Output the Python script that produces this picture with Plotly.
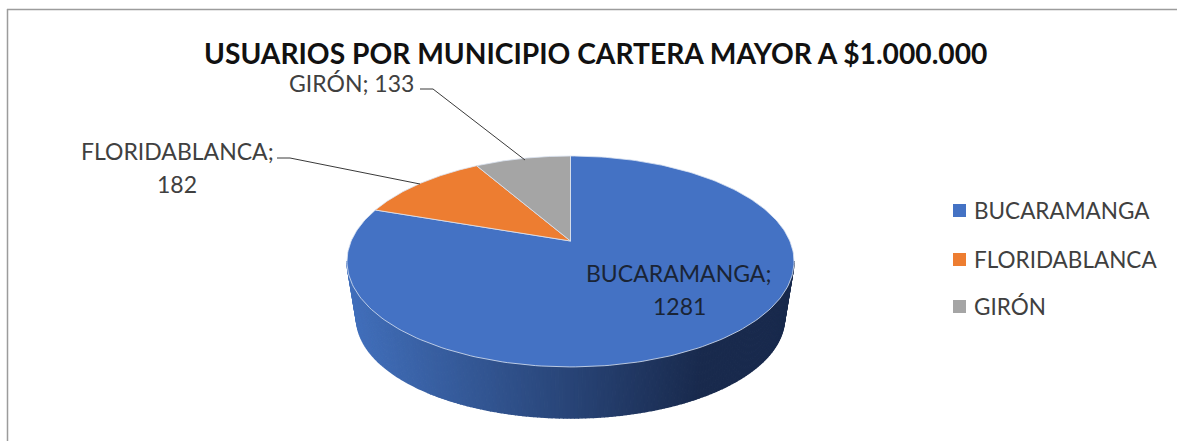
import numpy as np
import plotly.graph_objects as go

categories = ["BUCARAMANGA", "FLORIDABLANCA", "GIRÓN"]
values = [1281, 182, 133]
colors = ["#4472C4", "#ED7D31", "#A5A5A5"]
title_text = "USUARIOS POR MUNICIPIO CARTERA MAYOR A $1.000.000"

W, H = 1177, 441
CX, APEX_Y = 570.5, 241.0
A, B, K = 219.3, 101.5, 0.194
ELL_Y, ELL_A, ELL_B = 261.0, 223.5, 105.5
BOT_Y, BOT_A, BOT_B = 318.0, 214.0, 100.0
FONT = "Lato"
LEGEND_X, LEGEND_Y = 959.5, [210.5, 259.5, 306.5]


def disc(theta):
    """Project a clockwise-from-top disc angle through the chart's perspective."""
    u, v = np.sin(theta), np.cos(theta)
    d = 1 + K * v
    return CX + A * u / d, APEX_Y - B * v / d


fig = go.Figure()

# Side wall of the pie, shaded left to right
N = 180
phi = np.linspace(np.pi, 0, N + 1)
ramp_l = np.array([66, 112, 188])
ramp_m = np.array([38, 64, 112])
ramp_r = np.array([25, 42, 77])
for i in range(N):
    p = np.linspace(phi[i], phi[i + 1], 3)
    xt = CX + ELL_A * np.cos(p)
    yt = ELL_Y + ELL_B * np.sin(p)
    xb = CX + BOT_A * np.cos(p)
    yb = BOT_Y + BOT_B * np.sin(p)
    f = (xt.mean() - (CX - ELL_A)) / (2 * ELL_A)
    c = ramp_l + (ramp_m - ramp_l) * f / 0.55 if f < 0.55 else ramp_m + (ramp_r - ramp_m) * min(1, (f - 0.55) / 0.25)
    col = "rgb(%d,%d,%d)" % tuple(c)
    fig.add_trace(go.Scatter(
        x=np.r_[xt, xb[::-1]], y=np.r_[yt, yb[::-1]], mode="lines", fill="toself",
        fillcolor=col, line=dict(color=col, width=1.5), hoverinfo="skip", showlegend=False))

# Top face wedges computed from the values
total = sum(values)
start = 0.0
for name, val, col in zip(categories, values, colors):
    end = start + val / total * 2 * np.pi
    t = np.linspace(start, end, 240)
    px, py = disc(t)
    fig.add_trace(go.Scatter(
        x=np.r_[CX, px, CX], y=np.r_[APEX_Y, py, APEX_Y], mode="lines", fill="toself",
        fillcolor=col, line=dict(color="#DCE4F2", width=0.8),
        name=name, text=f"{name}; {val}", hoverinfo="text", showlegend=False))
    start = end

# Leader lines
for lx, ly in (([420, 433, 525], [89, 89, 160]), ([277, 290, 420], [158, 158, 184])):
    fig.add_trace(go.Scatter(x=lx, y=ly, mode="lines", line=dict(color="#3A3A3A", width=1),
                             hoverinfo="skip", showlegend=False))


def label(text, x, y, size=23, color="#404040", bold=False, anchor="center"):
    fig.add_annotation(x=x, y=y, text=f"<b>{text}</b>" if bold else text, showarrow=False,
                       xref="x", yref="y", align="center", xanchor=anchor,
                       font=dict(family=FONT, size=size, color=color))


# Legend keys and entries
for name, col, ly in zip(categories, colors, LEGEND_Y):
    fig.add_trace(go.Scatter(
        x=[LEGEND_X], y=[ly], mode="markers", name=name, hoverinfo="name", showlegend=False,
        marker=dict(symbol="square", size=13, color=col)))
    label(name, LEGEND_X + 12.5, ly, size=22.5, anchor="left")

label(title_text, 595.5, 53, size=28.2, color="#111111", bold=True)
label(f"{categories[2]}; {values[2]}", 351, 83)
label(f"{categories[1]};", 177, 151)
label(f"{values[1]}", 177, 184)
label(f"{categories[0]};", 678, 273, color="#1A2435")
label(f"{values[0]}", 679, 306, color="#1A2435")

fig.update_layout(
    width=W, height=H, margin=dict(l=0, r=0, t=0, b=0), autosize=False,
    paper_bgcolor="white", plot_bgcolor="white", showlegend=False,
    xaxis=dict(range=[0, W], visible=False, fixedrange=True),
    yaxis=dict(range=[H, 0], visible=False, fixedrange=True),
    shapes=[dict(type="line", xref="x", yref="y", x0=7.5, x1=7.5, y0=9, y1=H,
                 line=dict(color="#9C9C9C", width=1.5)),
            dict(type="line", xref="x", yref="y", x0=7, x1=W, y0=9.5, y1=9.5,
                 line=dict(color="#9C9C9C", width=1.5))],
)
fig.write_html("out.html", config={"displayModeBar": False},
               post_script="document.body.style.margin='0';document.documentElement.style.overflow='hidden';")
